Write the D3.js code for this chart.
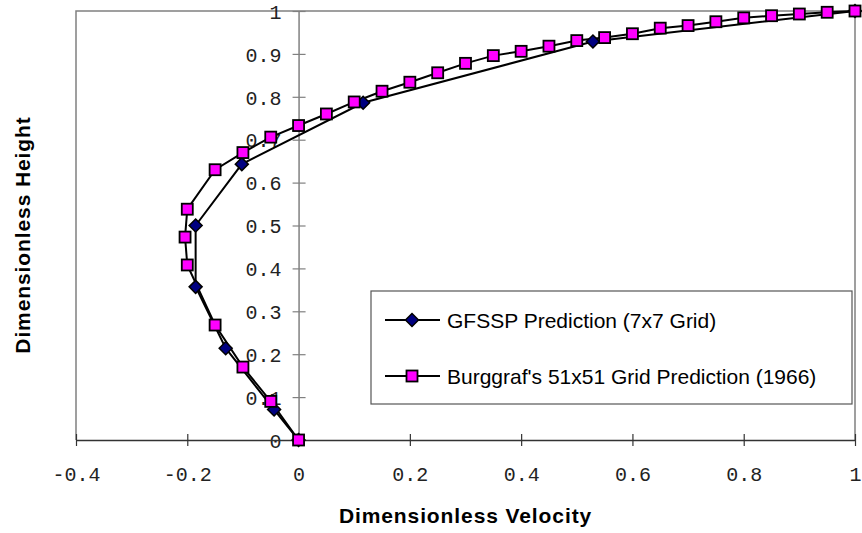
<!DOCTYPE html>
<html><head><meta charset="utf-8">
<script src="https://cdn.jsdelivr.net/npm/d3@7"></script>
<style>body{margin:0;background:#fff}svg{display:block}</style>
</head><body>
<svg id="c" width="862" height="533"></svg>
<script>
const gfsspX = [0, -0.044, -0.131, -0.185, -0.185, -0.102, 0.116, 0.529, 1.0];
const gfsspY = [0, 0.071, 0.214, 0.357, 0.5, 0.643, 0.786, 0.929, 1.0];
const burgX = [0, -0.05, -0.1, -0.15, -0.2, -0.204, -0.2, -0.15, -0.1, -0.05, 0, 0.05, 0.1, 0.15, 0.2, 0.25, 0.3, 0.35, 0.4, 0.45, 0.5, 0.55, 0.6, 0.65, 0.7, 0.75, 0.8, 0.85, 0.9, 0.95, 1.0];
const burgY = [0, 0.09, 0.17, 0.268, 0.408, 0.473, 0.538, 0.63, 0.67, 0.706, 0.733, 0.76, 0.788, 0.813, 0.834, 0.856, 0.878, 0.896, 0.906, 0.918, 0.931, 0.938, 0.947, 0.96, 0.966, 0.975, 0.984, 0.989, 0.993, 0.997, 1.0];
const xTicks = [-0.4, -0.2, 0, 0.2, 0.4, 0.6, 0.8, 1];
const yTicks = [0, 0.1, 0.2, 0.3, 0.4, 0.5, 0.6, 0.7, 0.8, 0.9, 1];
const seriesNames = ["GFSSP Prediction (7x7 Grid)", "Burggraf's 51x51 Grid Prediction (1966)"];

const svg = d3.select("#c");
const x = d3.scaleLinear().domain([-0.4, 1]).range([76, 855]);
const y = d3.scaleLinear().domain([0, 1]).range([440, 11]);
const monoFont = "'Liberation Mono', 'Courier New', monospace";
const sansFont = "'Liberation Sans', Arial, sans-serif";

// plot border (top, left, right)
svg.append("path")
  .attr("d", `M${x(-0.4)},${y(0)}V${y(1)}H${x(1)}V${y(0)}`)
  .attr("fill", "none").attr("stroke", "#808080").attr("stroke-width", 1.5);

// y axis at x=0
const yAxis = d3.axisLeft(y).tickValues(yTicks).tickSize(0).tickFormat(d3.format("~g"));
const ya = svg.append("g").attr("transform", `translate(${x(0)},0)`).call(yAxis);
ya.select(".domain").attr("stroke", "#808080").attr("stroke-width", 1.5);
ya.selectAll(".tick line").attr("x1", -6).attr("x2", 7).attr("stroke", "#808080").attr("stroke-width", 1.2);
ya.selectAll(".tick text").attr("x", -17).attr("dy", "0.36em")
  .attr("font-family", monoFont).attr("font-size", 20).attr("fill", "#222");

// x axis at y=0
const xAxis = d3.axisBottom(x).tickValues(xTicks).tickSize(0).tickFormat(d => d3.format("~g")(d).replace("−", "-"));
const xa = svg.append("g").attr("transform", `translate(0,${y(0)})`).call(xAxis);
xa.select(".domain").attr("stroke", "#333").attr("stroke-width", 1.5);
xa.selectAll(".tick line").attr("y1", -6).attr("y2", 6).attr("stroke", "#333").attr("stroke-width", 1.2);
xa.selectAll(".tick text").attr("y", 41).attr("dy", 0)
  .attr("font-family", monoFont).attr("font-size", 20).attr("fill", "#222");

// lines
const line = d3.line().x(d => x(d[0])).y(d => y(d[1]));
const gData = gfsspX.map((v, i) => [v, gfsspY[i]]);
const bData = burgX.map((v, i) => [v, burgY[i]]);

svg.append("path").datum(gData).attr("d", line).attr("fill", "none").attr("stroke", "#000").attr("stroke-width", 2);
svg.append("path").datum(bData).attr("d", line).attr("fill", "none").attr("stroke", "#000").attr("stroke-width", 2);

const diamond = (cx, cy) => `M${cx},${cy-6.5}L${cx+6.5},${cy}L${cx},${cy+6.5}L${cx-6.5},${cy}Z`;
svg.append("g").selectAll("path").data(gData).join("path")
  .attr("d", d => diamond(x(d[0]), y(d[1])))
  .attr("fill", "#000080").attr("stroke", "#000").attr("stroke-width", 1.5);
svg.append("g").selectAll("rect").data(bData).join("rect")
  .attr("x", d => x(d[0]) - 5.5).attr("y", d => y(d[1]) - 5.5)
  .attr("width", 11).attr("height", 11)
  .attr("fill", "#FF00FF").attr("stroke", "#000").attr("stroke-width", 1.8);

// legend
const lg = svg.append("g");
lg.append("rect").attr("x", 371).attr("y", 291).attr("width", 481).attr("height", 113)
  .attr("fill", "#fff").attr("stroke", "#555").attr("stroke-width", 1.2);
const ly = [320, 376];
seriesNames.forEach((name, i) => {
  lg.append("line").attr("x1", 385).attr("x2", 440).attr("y1", ly[i]).attr("y2", ly[i])
    .attr("stroke", "#000").attr("stroke-width", 2);
  if (i === 0) {
    lg.append("path").attr("d", diamond(412, ly[i])).attr("fill", "#000080").attr("stroke", "#000").attr("stroke-width", 1.5);
  } else {
    lg.append("rect").attr("x", 412 - 5.5).attr("y", ly[i] - 5.5).attr("width", 11).attr("height", 11)
      .attr("fill", "#FF00FF").attr("stroke", "#000").attr("stroke-width", 1.8);
  }
  lg.append("text").attr("x", 447).attr("y", ly[i]).attr("dy", "0.36em")
    .attr("font-family", sansFont).attr("font-size", 21).attr("fill", "#000").text(name);
});

// axis titles
svg.append("text").attr("x", 465.5).attr("y", 523).attr("text-anchor", "middle")
  .attr("font-family", sansFont).attr("font-weight", "bold").attr("font-size", 21)
  .attr("letter-spacing", 0.9).text("Dimensionless Velocity");
svg.append("text").attr("transform", "translate(30,235) rotate(-90)").attr("text-anchor", "middle")
  .attr("font-family", sansFont).attr("font-weight", "bold").attr("font-size", 21)
  .attr("letter-spacing", 0.9).text("Dimensionless Height");
</script>
</body></html>
